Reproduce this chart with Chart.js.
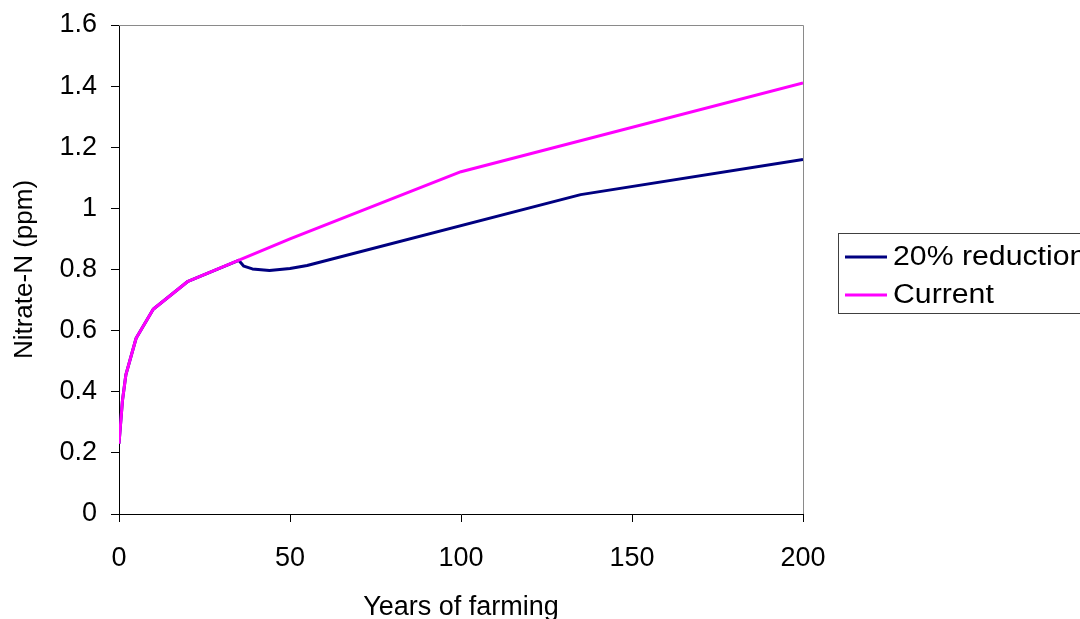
<!DOCTYPE html>
<html>
<head>
<meta charset="utf-8">
<script src="https://cdn.jsdelivr.net/npm/chart.js@4/dist/chart.umd.min.js"></script>
<style>
  html, body { margin: 0; padding: 0; background: #fff; }
  canvas { display: block; }
</style>
</head>
<body>
<canvas id="chart" width="1080" height="619"></canvas>
<script>
// Nitrate-N over years of farming
const currentYears = [0, 1, 2, 5, 10, 20, 50, 100, 200];
const currentValues = [0.23, 0.37, 0.455, 0.575, 0.67, 0.76, 0.90, 1.12, 1.41];

const reductionYears = [0, 1, 2, 5, 10, 20, 35, 36.5, 39, 44, 50, 55, 135, 200];
const reductionValues = [0.23, 0.37, 0.455, 0.575, 0.67, 0.76, 0.83, 0.811, 0.802, 0.797, 0.803, 0.813, 1.045, 1.16];

const xTicks = [0, 50, 100, 150, 200];
const yTicks = [0, 0.2, 0.4, 0.6, 0.8, 1, 1.2, 1.4, 1.6];

const seriesNames = ['20% reduction', 'Current'];
const seriesColors = ['#000080', '#FF00FF'];

const FONT = 'Liberation Sans, Arial, sans-serif';

function toPoints(xs, ys) {
    return xs.map((x, i) => ({ x: x, y: ys[i] }));
}

// gray frame on top and right of plot area
const frame = {
    id: 'frame',
    beforeDatasetsDraw(chart) {
        const { ctx, chartArea: a } = chart;
        ctx.save();
        ctx.strokeStyle = '#8a8a8a';
        ctx.lineWidth = 1;
        ctx.beginPath();
        ctx.moveTo(a.left, a.top + 0.5);
        ctx.lineTo(a.right + 0.5, a.top + 0.5);
        ctx.lineTo(a.right + 0.5, a.bottom);
        ctx.stroke();
        ctx.restore();
    }
};

// legend box like the original (cut by the right edge)
const boxLegend = {
    id: 'boxLegend',
    afterDraw(chart) {
        const ctx = chart.ctx;
        ctx.save();
        ctx.fillStyle = '#fff';
        ctx.strokeStyle = '#404040';
        ctx.lineWidth = 1;
        ctx.fillRect(838, 233, 260, 80);
        ctx.strokeRect(838.5, 233.5, 260, 80);
        ctx.textBaseline = 'middle';
        ctx.textAlign = 'left';
        const rows = [257, 295];
        seriesNames.forEach((name, i) => {
            ctx.strokeStyle = seriesColors[i];
            ctx.lineWidth = 3;
            ctx.beginPath();
            ctx.moveTo(845, rows[i]);
            ctx.lineTo(887, rows[i]);
            ctx.stroke();
            // text in the original is a bit wider than plain Arial
            ctx.save();
            ctx.translate(893, rows[i] + 1);
            ctx.scale(1.12, 1);
            ctx.fillStyle = '#000';
            ctx.font = '27px ' + FONT;
            ctx.fillText(name, 0, 0);
            ctx.restore();
        });
        ctx.restore();
    }
};

new Chart(document.getElementById('chart'), {
    type: 'line',
    data: {
        datasets: [{
            label: seriesNames[0],
            data: toPoints(reductionYears, reductionValues),
            borderColor: seriesColors[0],
            borderWidth: 3,
            pointRadius: 0,
            tension: 0,
            borderJoinStyle: 'round',
            fill: false,
            order: 1
        }, {
            label: seriesNames[1],
            data: toPoints(currentYears, currentValues),
            borderColor: seriesColors[1],
            borderWidth: 3,
            pointRadius: 0,
            tension: 0,
            borderJoinStyle: 'round',
            fill: false,
            order: 0
        }]
    },
    options: {
        responsive: false,
        animation: false,
        devicePixelRatio: 1,
        layout: { padding: { top: 25, right: 277, left: 0, bottom: 0 } },
        plugins: {
            legend: { display: false },
            tooltip: { enabled: false }
        },
        scales: {
            x: {
                type: 'linear',
                min: 0,
                max: 200,
                afterBuildTicks: (scale) => { scale.ticks = xTicks.map(v => ({ value: v })); },
                afterFit: (scale) => {
                    scale.height = 105;
                    scale.paddingLeft = 0;
                    scale.paddingRight = 0;
                },
                border: { display: true, color: '#000', width: 1 },
                grid: { drawOnChartArea: false, drawTicks: true, tickLength: 8, color: '#000' },
                ticks: {
                    color: '#000',
                    font: { family: FONT, size: 27 },
                    padding: 20,
                    maxRotation: 0,
                    callback: (v) => String(v)
                },
                title: {
                    display: true,
                    text: 'Years of farming',
                    color: '#000',
                    font: { family: FONT, size: 27 },
                    padding: { top: 0, bottom: -5 }
                }
            },
            y: {
                min: 0,
                max: 1.6,
                afterBuildTicks: (scale) => { scale.ticks = yTicks.map(v => ({ value: v })); },
                afterFit: (scale) => {
                    scale.width = 119;
                    scale.paddingTop = 0;
                    scale.paddingBottom = 0;
                },
                border: { display: true, color: '#000', width: 1 },
                grid: { drawOnChartArea: false, drawTicks: true, tickLength: 8, color: '#000' },
                ticks: {
                    color: '#000',
                    font: { family: FONT, size: 27 },
                    padding: 14,
                    callback: (v) => String(Math.round(v * 10) / 10)
                },
                title: {
                    display: true,
                    text: 'Nitrate-N (ppm)',
                    color: '#000',
                    font: { family: FONT, size: 26 },
                    padding: { top: 9, bottom: 0 }
                }
            }
        }
    },
    plugins: [frame, boxLegend]
});
</script>
</body>
</html>
